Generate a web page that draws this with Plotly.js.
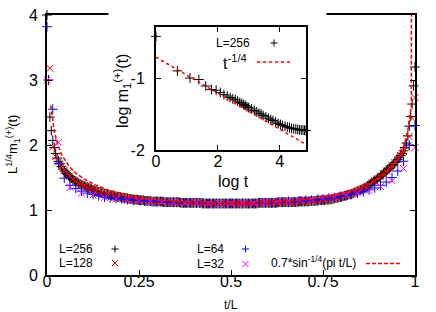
<!DOCTYPE html>
<html><head><meta charset="utf-8">
<script src="https://cdn.plot.ly/plotly-3.0.1.min.js"></script>
<style>html,body{margin:0;padding:0;background:#fff}#chart{width:436px;height:312px}</style>
</head><body><div id="chart"></div>
<script>
// ---- Main panel: L^{1/4} m1(t) versus t/L, values at t = 0..L ----
const sizes = [256, 128, 64, 32];
const labels = ["L=256", "L=128", "L=64", "L=32"];

const valsL256 = [
 4.00,3.00,2.43,2.22,2.07,1.96,1.87,1.80,1.75,1.71,
 1.67,1.63,1.60,1.57,1.55,1.53,1.51,1.49,1.47,1.45,
 1.44,1.43,1.41,1.40,1.39,1.38,1.37,1.36,1.35,1.34,
 1.33,1.32,1.31,1.30,1.29,1.28,1.28,1.27,1.26,1.26,
 1.25,1.24,1.24,1.23,1.23,1.22,1.22,1.21,1.21,1.20,
 1.20,1.20,1.19,1.19,1.18,1.18,1.18,1.17,1.17,1.17,
 1.16,1.16,1.16,1.16,1.15,1.15,1.15,1.15,1.14,1.14,
 1.14,1.14,1.14,1.13,1.13,1.13,1.13,1.13,1.13,1.13,
 1.13,1.12,1.12,1.12,1.12,1.12,1.12,1.12,1.12,1.12,
 1.12,1.12,1.12,1.11,1.11,1.11,1.11,1.11,1.11,1.11,
 1.11,1.11,1.11,1.11,1.11,1.11,1.11,1.11,1.11,1.10,
 1.10,1.10,1.10,1.10,1.10,1.10,1.10,1.10,1.10,1.10,
 1.10,1.10,1.10,1.10,1.10,1.10,1.10,1.10,1.10,
 1.10,1.10,1.10,1.10,1.10,1.10,1.10,1.10,1.10,1.10,
 1.10,1.10,1.10,1.10,1.10,1.10,1.10,1.10,
 1.11,1.11,1.11,1.11,1.11,1.11,1.11,1.11,1.11,1.11,1.11,1.11,1.11,1.11,
 1.12,1.12,1.12,1.12,1.12,1.12,1.12,1.12,1.12,1.12,1.12,1.12,1.12,1.12,
 1.13,1.13,1.13,1.13,1.13,1.13,1.13,1.13,
 1.14,1.14,1.14,1.14,1.14,1.14,
 1.15,1.15,1.15,1.15,1.15,
 1.16,1.16,1.16,1.16,
 1.17,1.17,1.18,1.18,1.19,1.19,1.20,1.20,1.21,
 1.22,1.22,1.23,1.24,1.24,1.25,1.26,1.27,1.28,1.29,
 1.30,1.31,1.32,1.33,1.34,1.35,1.37,1.38,1.40,1.42,
 1.44,1.45,1.47,1.48,1.50,1.52,1.54,1.56,1.58,1.60,
 1.62,1.64,1.66,1.68,1.70,1.73,1.75,1.78,1.81,1.84,
 1.87,1.91,1.96,2.03,2.14,2.29,2.44,2.63,2.91,3.20
];

const valsL128 = [
 null,3.18,1.97,1.82,1.74,1.67,1.61,1.56,1.52,1.47,
 1.44,1.41,1.39,1.37,1.35,1.33,1.31,1.29,1.28,1.26,
 1.25,1.24,1.23,1.22,1.21,1.20,1.19,1.18,1.18,1.17,
 1.16,1.16,1.15,1.15,1.14,1.14,1.14,1.13,1.13,1.13,
 1.13,1.12,1.12,1.12,1.12,1.12,1.12,1.11,1.11,1.11,
 1.11,1.11,1.11,1.11,1.11,1.10,1.10,1.10,1.10,1.10,
 1.10,1.10,1.10,1.10,1.10,
 1.10,1.10,1.10,1.10,1.10,1.10,1.10,1.10,1.10,
 1.11,1.11,1.11,1.11,1.11,1.11,1.11,
 1.12,1.12,1.12,1.12,1.12,1.12,1.12,
 1.13,1.13,1.13,1.13,
 1.14,1.14,1.14,
 1.15,1.15,1.16,1.16,
 1.18,1.18,1.19,1.20,1.21,1.22,1.24,1.25,1.27,1.29,
 1.31,1.33,1.35,1.38,1.42,1.45,1.48,1.52,1.56,1.60,
 1.64,1.68,1.73,1.78,1.84,1.90,1.97,2.13,2.41,2.73
];

const valsL64 = [
 3.82,2.55,1.72,1.49,1.38,1.33,1.29,1.26,1.24,1.22,
 1.20,1.19,1.18,1.17,1.16,1.15,1.15,1.14,1.14,1.13,
 1.13,1.12,1.12,1.12,1.11,1.11,1.11,1.10,1.10,1.10,
 1.10,1.10,1.10,
 1.10,1.10,1.10,1.10,1.11,1.11,1.11,1.12,1.12,1.13,
 1.13,1.14,1.15,1.15,1.16,1.17,1.18,1.19,1.21,1.22,
 1.24,1.26,1.28,1.31,1.34,1.38,1.43,1.50,1.60,1.75,
 2.00,2.30
];

const valsL32 = [
 3.00,2.04,1.35,1.26,1.23,1.19,1.17,1.15,1.14,1.13,
 1.12,1.12,1.11,1.11,1.10,1.10,1.10,
 1.11,1.11,1.12,1.13,1.14,1.15,1.16,1.18,1.20,1.23,
 1.26,1.30,1.36,1.45,1.64,1.96
];

// fitted curve 0.7*sin^{-1/4}(pi t/L), as drawn (sampled)
const fitX = [0.0101,0.02,0.03,0.04,0.06,0.08,0.10,0.13,0.16,0.20,0.25,0.30,0.35,0.40,0.45,0.50,
              0.55,0.60,0.65,0.70,0.75,0.80,0.84,0.87,0.90,0.92,0.94,0.96,0.97,0.98,0.99,1.00];
const fitY = [2.61,2.20,1.99,1.85,1.67,1.56,1.48,1.39,1.32,1.26,1.20,1.16,1.13,1.11,1.10,1.10,
              1.10,1.11,1.13,1.16,1.20,1.26,1.32,1.39,1.48,1.56,1.67,1.85,1.99,2.20,2.61,60];

// ---- Inset: log m1(t) versus log t, L=256 ----
const insetLogT = [0,0.693,1.099,1.386,1.609,1.792,1.946,2.079,2.197,2.303,2.398,2.485,2.565,2.639,2.708,
  2.773,2.833,2.890,2.944,2.996,3.091,3.178,3.258,3.332,3.401,3.466,3.555,3.638,3.714,3.784,3.871,
  3.951,4.025,4.094,4.174,4.248,4.317,4.382,4.454,4.522,4.585,4.644,4.700,4.754,4.804,4.852];
const insetLogM = [-0.42,-0.90,-1.00,-1.02,-1.11,-1.16,-1.17,-1.20,-1.23,-1.25,-1.27,-1.29,-1.30,-1.32,-1.34,
  -1.35,-1.37,-1.38,-1.40,-1.41,-1.43,-1.45,-1.47,-1.49,-1.50,-1.52,-1.54,-1.56,-1.58,-1.59,-1.61,
  -1.63,-1.645,-1.66,-1.67,-1.68,-1.69,-1.70,-1.705,-1.71,-1.715,-1.72,-1.72,-1.725,-1.725,-1.73];
const powX = [0, 4.852];
const powY = [-0.71, -1.923];

// ---- styling ----
const FONT = "Liberation Sans, Arial, Helvetica, sans-serif";
const colors = ["#000000", "#ff0000", "#0000ff", "#ff00ff"];
const symbols = ["cross-thin", "x-thin", "cross-thin", "x-thin"];
const W = 436, H = 312, ML = 47, MR = 21, MT = 15, MB = 37;
const PW = W - ML - MR, PH = H - MT - MB;
const px = x => (x - ML) / PW;
const py = y => (H - MB - y) / PH;

const allVals = [valsL256, valsL128, valsL64, valsL32];
const traces = allVals.map((v, i) => ({
  x: v.map((_, k) => k / sizes[i]), y: v,
  type: "scatter", mode: "markers", name: labels[i], cliponaxis: false,
  marker: {symbol: symbols[i], size: 7, color: colors[i], line: {color: colors[i], width: 1}},
  xaxis: "x", yaxis: "y", showlegend: false
}));
traces.push({x: fitX, y: fitY, type: "scatter", mode: "lines", showlegend: false,
  line: {color: "#ff0000", width: 1.5, dash: "4px,2px"}, xaxis: "x", yaxis: "y"});
traces.push({x: insetLogT, y: insetLogM, type: "scatter", mode: "markers", cliponaxis: false, showlegend: false,
  marker: {symbol: "cross-thin", size: 7, color: "#000", line: {color: "#000", width: 1}}, xaxis: "x2", yaxis: "y2"});
traces.push({x: powX, y: powY, type: "scatter", mode: "lines", showlegend: false,
  line: {color: "#ff0000", width: 1.5, dash: "dot"}, xaxis: "x2", yaxis: "y2"});

function ann(text, x, y, opts) {
  return Object.assign({text, x: px(x), y: py(y), xref: "paper", yref: "paper", showarrow: false,
    xanchor: "left", yanchor: "middle", font: {family: FONT, size: 12, color: "#000"}}, opts || {});
}
function seg(x0, y0, x1, y1, color, extra) {
  return Object.assign({type: "line", xref: "paper", yref: "paper", x0: px(x0), y0: py(y0), x1: px(x1), y1: py(y1),
    line: {color, width: 1}, layer: "above"}, extra || {});
}
function plus(cx, cy, c) { return [seg(cx-3.5, cy, cx+3.5, cy, c), seg(cx, cy-3.5, cx, cy+3.5, c)]; }
function cross(cx, cy, c) { return [seg(cx-3, cy-3, cx+3, cy+3, c), seg(cx-3, cy+3, cx+3, cy-3, c)]; }

const shapes = [
  {type: "rect", xref: "paper", yref: "paper", x0: px(108.5), x1: px(326.5), y0: py(21), y1: py(8),
   fillcolor: "#fff", line: {width: 0}, layer: "above"},
  ...plus(115, 249, "#000"), ...cross(115, 263, "#ff0000"),
  ...plus(245.5, 249, "#0000ff"), ...cross(245.5, 264, "#ff00ff"),
  seg(366, 263.5, 401, 263.5, "#ff0000", {line: {color: "#ff0000", width: 1.5, dash: "4px,2px"}}),
  ...plus(274, 43, "#000"),
  seg(257, 62, 290, 62, "#ff0000", {line: {color: "#ff0000", width: 1.5, dash: "dot"}})
];

const annotations = [
  ann("L=256", 57, 249), ann("L=128", 57, 263), ann("L=64", 195, 249), ann("L=32", 195, 264),
  ann("0.7*sin<sup>-1/4</sup>(pi t/L)", 269, 262),
  ann("L=256", 214, 43),
  ann("t<sup>-1/4</sup>", 221, 62, {font: {family: FONT, size: 16, color: "#000"}}),
  ann("t/L", 231, 304.5, {xanchor: "center"}),
  ann("L<sup>1/4</sup>m<sub>1</sub><sup>(+)</sup>(t)", 13, 145, {xanchor: "center", textangle: -90, font: {family: FONT, size: 13, color: "#000"}}),
  ann("log t", 233, 181, {xanchor: "center", font: {family: FONT, size: 16, color: "#000"}}),
  ann("log m<sub>1</sub><sup>(+)</sup>(t)", 122, 91, {xanchor: "center", textangle: -90, font: {family: FONT, size: 16, color: "#000"}})
];

const axBase = {showgrid: false, zeroline: false, showline: true, linecolor: "#000", linewidth: 2,
  mirror: "ticks", ticks: "inside", ticklen: 5, tickwidth: 1, tickcolor: "#000",
  tickfont: {family: FONT, size: 16, color: "#000"}, fixedrange: true};

const layout = {
  width: W, height: H, margin: {l: ML, r: MR, t: MT, b: MB, pad: 0},
  paper_bgcolor: "#fff", plot_bgcolor: "#fff", showlegend: false,
  xaxis: Object.assign({}, axBase, {range: [0, 1], tickvals: [0, 0.25, 0.5, 0.75, 1],
    ticktext: ["0", "0.25", "0.5", "0.75", "1"], ticklabelstandoff: -9, anchor: "y"}),
  yaxis: Object.assign({}, axBase, {range: [0, 4], tickvals: [0, 1, 2, 3, 4],
    ticktext: ["0", "1", "2", "3", "4"], ticklabelstandoff: 4, anchor: "x"}),
  xaxis2: Object.assign({}, axBase, {domain: [px(156), px(306)], range: [0, 4.852], anchor: "y2",
    tickvals: [0, 2, 4], ticktext: ["0", "2", "4"], ticklabelstandoff: -4}),
  yaxis2: Object.assign({}, axBase, {domain: [py(150), py(27)], range: [-2, -0.29], anchor: "x2",
    tickvals: [-2, -1], ticktext: ["-2", "-1"], ticklabelstandoff: 6}),
  shapes, annotations
};

Plotly.newPlot("chart", traces, layout, {staticPlot: true, displayModeBar: false});
</script></body></html>
